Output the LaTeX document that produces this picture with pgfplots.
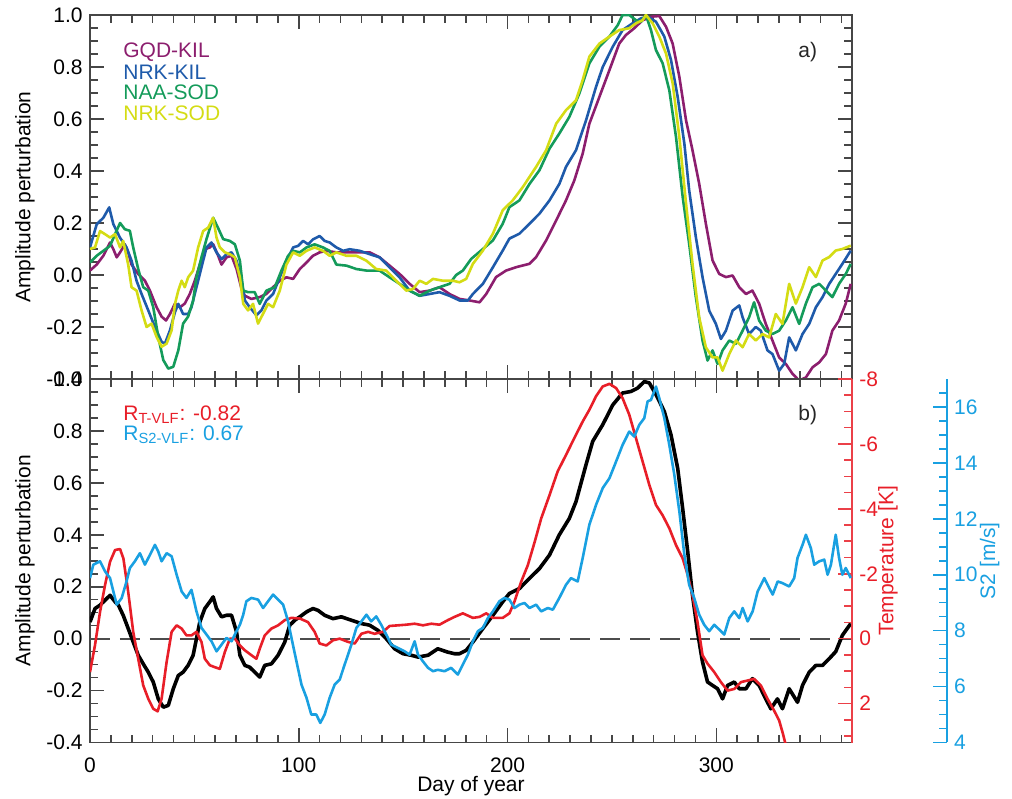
\documentclass[border=0pt]{standalone}
\usepackage{fontspec}
\setmainfont{Liberation Sans}
\usepackage{pgfplots}
\pgfplotsset{compat=1.18}
\definecolor{cPur}{RGB}{140,30,110}
\definecolor{cBlu}{RGB}{30,90,170}
\definecolor{cGrn}{RGB}{20,155,90}
\definecolor{cYel}{RGB}{212,220,20}
\definecolor{cRed}{RGB}{232,30,40}
\definecolor{cSky}{RGB}{25,160,225}
\definecolor{cAx}{RGB}{70,70,70}
\begin{document}
\fontsize{10.5}{12}\selectfont
\begin{tikzpicture}
\path[use as bounding box] (0pt,0pt) rectangle (506pt,399pt);
\pgfplotsset{
  base/.style={scale only axis, tick align=inside, anchor=center,
    major tick length=7pt, minor tick length=4pt,
    /pgf/number format/assume math mode=true,
    ticklabel style={font=\fontsize{10.5}{12}\selectfont},
    label style={font=\fontsize{10.5}{12}\selectfont},
    axis line style={cAx, line width=0.8pt},
    tick style={cAx, line width=0.8pt}},
  ampl/.style={base, width=381pt, xmin=0, xmax=365, ymin=-0.4, ymax=1.0,
    xtick={0,100,200,300}, minor xtick={10,20,...,360},
    ytick={-0.4,-0.2,0,0.2,0.4,0.6,0.8,1.0},
    minor ytick={-0.35,-0.3,-0.25,-0.15,-0.1,-0.05,0.05,0.1,0.15,0.25,0.3,0.35,0.45,0.5,0.55,0.65,0.7,0.75,0.85,0.9,0.95},
    yticklabel style={/pgf/number format/fixed, /pgf/number format/fixed zerofill, /pgf/number format/precision=1},
    ylabel={Amplitude perturbation},
    every axis y label/.style={at={([xshift=-32.5pt]axis description cs:0,0.5)}, rotate=90, anchor=center}},
  ln/.style={line width=1.3pt, line join=round},
}
% ---------------- top panel ----------------
\begin{axis}[ampl, at={(235.5pt,300.5pt)}, height=182pt, xticklabels={}]
\addplot[ln, cPur] coordinates {
(0,0.017)(3.2,0.04)(6.4,0.074)(9.6,0.125)(11.2,0.099)(12.8,0.068)(14.4,0.087)(16.7,0.118)(18.3,0.087)(19.9,0.04)
(23.1,0.004)(26.3,-0.022)(28.7,-0.06)(31.9,-0.124)(34.3,-0.16)(36.4,-0.175)(38.3,-0.15)(40.7,-0.11)(43.1,-0.124)(45.4,-0.11)
(47.8,-0.073)(50.2,-0.022)(52.6,0.04)(55.0,0.099)(57.4,0.106)(59.0,0.118)(61.4,0.074)(63.0,0.04)(65.4,0.068)(67.8,0.074)
(70.2,0.023)(72.6,-0.054)(74.2,-0.08)(77.3,-0.092)(81.3,-0.085)(84.5,-0.073)(87.7,-0.047)(90.9,-0.022)(94.1,-0.009)(97.3,-0.015)
(100.5,0.023)(103.7,0.048)(106.8,0.074)(110.0,0.087)(113.2,0.093)(118.0,0.087)(122.8,0.087)(129.2,0.087)(134.0,0.087)(138.7,0.068)
(143.5,0.036)(148.3,0.004)(153.1,-0.034)(157.9,-0.066)(162.7,-0.06)(167.4,-0.047)(172.2,-0.073)(177.0,-0.092)(181.8,-0.098)(186.6,-0.105)
(189.8,-0.073)(194.5,-0.008)(199.3,0.017)(204.1,0.03)(210.5,0.043)(213.7,0.069)(218.5,0.133)(223.3,0.21)(228.0,0.287)(232.0,0.364)
(236.0,0.467)(239.2,0.582)(244.0,0.685)(248.8,0.788)(253.5,0.89)(256.7,0.923)(260.7,0.949)(264.7,0.98)(269.5,0.994)(272.7,0.996)
(275.9,0.955)(279.1,0.89)(282.3,0.762)(285.5,0.595)(288.6,0.48)(291.8,0.351)(295.0,0.197)(298.2,0.056)(301.4,0.004)(304.6,-0.008)
(307.8,-0.002)(311.0,-0.047)(314.2,-0.073)(317.3,-0.06)(320.5,-0.11)(323.7,-0.188)(326.9,-0.252)(330.1,-0.317)(333.3,-0.342)(336.5,-0.38)
(339.7,-0.406)(342.9,-0.394)(346.1,-0.355)(349.3,-0.336)(352.5,-0.304)(355.6,-0.214)(358.8,-0.175)(362.0,-0.11)(364.4,-0.034)};
\addplot[ln, cBlu] coordinates {
(0,0.106)(3.2,0.195)(6.4,0.22)(9.2,0.26)(11.2,0.195)(14.4,0.143)(17.5,0.106)(19.9,0.055)(22.3,-0.022)(24.7,-0.073)
(27.9,-0.136)(31.1,-0.2)(34.3,-0.257)(35.9,-0.264)(38.3,-0.213)(40.7,-0.143)(42.3,-0.111)(44.6,-0.15)(47.0,-0.15)(48.6,-0.124)
(51.0,-0.047)(53.4,0.029)(55.8,0.106)(58.2,0.125)(60.6,0.087)(63.0,0.061)(65.4,0.08)(67.8,0.087)(70.2,0.055)(72.6,-0.022)
(74.2,-0.098)(76.5,-0.124)(79.7,-0.155)(82.1,-0.136)(84.5,-0.098)(87.7,-0.073)(90.9,-0.009)(94.1,0.055)(97.3,0.106)(99.7,0.112)
(102.1,0.131)(104.5,0.118)(106.8,0.137)(110.0,0.15)(112.4,0.131)(114.8,0.125)(118.0,0.106)(121.2,0.093)(124.4,0.099)(129.2,0.093)
(134.0,0.08)(138.7,0.068)(143.5,0.029)(148.3,-0.009)(153.1,-0.06)(157.9,-0.08)(162.7,-0.073)(167.4,-0.066)(172.2,-0.08)(177.0,-0.098)
(181.0,-0.098)(183.4,-0.073)(188.2,-0.034)(193.0,0.03)(197.7,0.094)(200.9,0.14)(205.7,0.159)(210.5,0.197)(215.3,0.236)(220.1,0.287)
(224.8,0.35)(228.0,0.416)(232.8,0.48)(237.6,0.595)(242.4,0.724)(245.6,0.8)(250.4,0.878)(255.1,0.942)(259.9,0.968)(263.9,0.987)
(267.1,0.994)(271.1,0.974)(275.1,0.917)(278.3,0.827)(281.5,0.685)(284.7,0.505)(287.0,0.326)(290.2,0.146)(293.4,-0.008)(296.6,-0.137)
(299.8,-0.188)(302.2,-0.246)(304.6,-0.214)(307.8,-0.137)(311.0,-0.117)(312.6,-0.163)(315.7,-0.227)(318.9,-0.2)(321.3,-0.214)(324.5,-0.29)
(326.9,-0.304)(330.1,-0.368)(332.5,-0.342)(334.9,-0.24)(338.1,-0.29)(341.3,-0.227)(344.5,-0.188)(347.7,-0.124)(350.9,-0.085)(354.1,-0.034)
(357.2,0.004)(360.4,0.043)(364.4,0.094)};
\addplot[ln, cGrn] coordinates {
(0,0.048)(3.2,0.074)(6.4,0.093)(9.6,0.112)(12.0,0.157)(14.4,0.2)(16.7,0.176)(19.1,0.17)(20.7,0.106)(23.1,0.023)
(25.5,-0.047)(27.9,-0.06)(30.3,-0.124)(32.7,-0.238)(35.1,-0.327)(37.5,-0.36)(39.9,-0.353)(42.3,-0.29)(44.6,-0.187)(47.0,-0.16)
(49.4,-0.099)(51.0,-0.009)(53.4,0.068)(55.8,0.138)(59.0,0.22)(61.4,0.18)(63.8,0.138)(67.0,0.131)(69.4,0.118)(71.8,0.055)
(73.4,-0.06)(75.7,-0.066)(78.9,-0.066)(81.3,-0.111)(84.5,-0.06)(88.5,-0.047)(91.7,0.017)(94.9,0.074)(97.3,0.093)(100.5,0.087)
(103.7,0.106)(107.6,0.118)(111.6,0.106)(114.8,0.093)(118.0,0.04)(122.8,0.036)(127.6,0.023)(132.4,0.017)(138.7,0.017)(143.5,-0.009)
(148.3,-0.034)(153.1,-0.06)(157.9,-0.08)(162.7,-0.06)(167.4,-0.047)(172.2,-0.034)(175.4,0.0)(178.6,0.017)(182.6,0.062)(188.2,0.1)
(193.0,0.133)(197.7,0.197)(200.9,0.261)(205.7,0.287)(210.5,0.35)(215.3,0.403)(220.1,0.486)(224.8,0.544)(229.6,0.608)(234.4,0.698)
(239.2,0.814)(244.0,0.878)(248.8,0.917)(252.8,0.961)(255.1,1.0)(258.3,1.0)(261.5,0.98)(263.9,0.974)(266.3,1.0)(268.7,0.942)
(271.1,0.865)(274.3,0.814)(277.5,0.71)(280.7,0.531)(283.9,0.3)(287.0,0.12)(290.2,-0.085)(293.4,-0.252)(295.8,-0.329)(298.2,-0.29)
(300.6,-0.342)(303.0,-0.29)(306.2,-0.252)(309.4,-0.265)(312.6,-0.214)(315.7,-0.163)(318.1,-0.105)(320.5,-0.175)(323.7,-0.214)(326.9,-0.227)
(330.1,-0.214)(333.3,-0.175)(336.5,-0.124)(339.7,-0.188)(342.9,-0.11)(346.1,-0.047)(349.3,-0.034)(352.5,-0.06)(355.6,-0.085)(358.8,-0.034)
(362.0,0.004)(364.4,0.043)};
\addplot[ln, cYel] coordinates {
(0,0.1)(2.4,0.106)(4.8,0.169)(7.2,0.157)(9.6,0.144)(12.0,0.157)(14.4,0.106)(15.9,0.131)(18.3,0.04)(19.9,-0.047)
(22.3,-0.06)(24.7,-0.136)(27.1,-0.2)(29.5,-0.187)(31.9,-0.238)(34.3,-0.276)(36.7,-0.264)(39.1,-0.213)(40.7,-0.111)(42.3,-0.06)
(43.9,-0.022)(45.4,-0.047)(47.0,-0.009)(49.4,0.017)(51.8,0.106)(54.2,0.169)(56.6,0.182)(59.0,0.22)(60.6,0.144)(62.2,0.106)
(64.6,0.087)(67.0,0.08)(69.4,0.068)(71.8,-0.009)(73.4,-0.111)(75.7,-0.136)(78.1,-0.111)(80.5,-0.187)(82.9,-0.149)(85.3,-0.111)
(87.7,-0.124)(90.9,-0.06)(94.1,0.04)(97.3,0.087)(100.5,0.074)(103.7,0.093)(107.6,0.106)(111.6,0.093)(114.8,0.074)(118.0,0.087)
(122.8,0.074)(127.6,0.074)(132.4,0.055)(137.1,0.023)(141.9,0.017)(146.7,-0.022)(151.5,-0.06)(154.7,-0.054)(157.9,-0.022)(161.1,-0.034)
(164.3,-0.015)(169.0,-0.022)(173.8,-0.022)(177.0,-0.028)(180.2,-0.015)(183.4,0.043)(188.2,0.094)(193.0,0.159)(197.7,0.249)(202.5,0.287)
(207.3,0.338)(213.7,0.416)(218.5,0.48)(223.3,0.582)(228.0,0.634)(232.8,0.672)(236.0,0.75)(239.2,0.84)(244.0,0.89)(248.8,0.917)
(253.5,0.942)(258.3,0.949)(261.5,0.968)(264.7,0.98)(266.3,1.0)(269.5,0.968)(272.7,0.917)(275.9,0.852)(279.1,0.737)(282.3,0.531)
(285.5,0.275)(288.6,0.043)(291.8,-0.163)(295.0,-0.278)(298.2,-0.317)(300.6,-0.317)(303.0,-0.368)(306.2,-0.304)(309.4,-0.252)(312.6,-0.278)
(315.7,-0.227)(318.9,-0.252)(322.1,-0.227)(325.3,-0.24)(328.5,-0.15)(331.7,-0.188)(334.9,-0.034)(338.1,-0.11)(341.3,-0.047)(344.5,0.03)
(347.7,-0.008)(350.9,0.056)(354.1,0.069)(357.2,0.094)(360.4,0.1)(364.4,0.113)};
\node[anchor=west, text=cPur, inner sep=0pt] at (rel axis cs:0.0433,0.898) {GQD-KIL};
\node[anchor=west, text=cBlu, inner sep=0pt] at (rel axis cs:0.0433,0.843) {NRK-KIL};
\node[anchor=west, text=cGrn, inner sep=0pt] at (rel axis cs:0.0433,0.787) {NAA-SOD};
\node[anchor=west, text=cYel, inner sep=0pt] at (rel axis cs:0.0433,0.731) {NRK-SOD};
\node[text=black!85] at (rel axis cs:0.942,0.898) {a)};
\end{axis}
% ---------------- bottom panel: amplitude ----------------
\begin{axis}[ampl, at={(235.5pt,118.625pt)}, height=181.75pt,
  axis x line*=box, axis y line*=left,
  xlabel={Day of year},
  every axis x label/.style={at={([yshift=-22pt]axis description cs:0.5,0)}, anchor=center},
  xticklabel style={yshift=-4pt}]
\addplot[black!70, line width=0.9pt, dash pattern=on 10pt off 5pt] coordinates {(0,0)(365,0)};
\addplot[black, line width=1.8pt, line join=round] coordinates {
(0,0.064)(2.4,0.116)(4.8,0.129)(7.2,0.148)(9.6,0.167)(12.0,0.142)(13.6,0.129)(15.9,0.09)(18.3,0.039)(20.7,-0.013)
(23.1,-0.064)(25.5,-0.097)(27.9,-0.129)(30.3,-0.167)(32.7,-0.232)(35.1,-0.264)(37.5,-0.257)(39.9,-0.193)(42.3,-0.142)(44.6,-0.129)
(47.0,-0.103)(49.4,-0.064)(51.0,0.0)(52.6,0.064)(55.0,0.116)(57.4,0.142)(59.0,0.161)(60.6,0.116)(63.0,0.084)(65.4,0.09)
(67.8,0.09)(70.2,0.026)(71.8,-0.064)(74.2,-0.103)(76.5,-0.11)(78.9,-0.129)(81.3,-0.148)(83.7,-0.103)(86.9,-0.097)(90.1,-0.064)
(93.3,-0.013)(95.7,0.052)(98.1,0.071)(100.5,0.084)(103.7,0.103)(106.8,0.116)(109.2,0.109)(112.4,0.09)(116.4,0.077)(120.4,0.084)
(125.2,0.071)(130.0,0.058)(133.9,0.052)(137.9,0.032)(141.9,0.0)(145.9,-0.039)(149.9,-0.058)(153.9,-0.064)(157.1,-0.071)(161.9,-0.064)
(166.6,-0.039)(171.4,-0.052)(174.6,-0.058)(177.0,-0.058)(180.2,-0.045)(183.4,-0.013)(188.2,0.039)(193.0,0.09)(197.7,0.142)(200.9,0.174)
(205.7,0.193)(210.5,0.232)(215.3,0.27)(220.1,0.322)(224.8,0.4)(229.6,0.463)(232.8,0.528)(237.6,0.67)(240.8,0.76)(245.6,0.824)
(250.4,0.9)(255.1,0.946)(259.1,0.952)(262.3,0.965)(265.5,0.99)(267.9,0.985)(271.1,0.94)(275.1,0.875)(278.3,0.785)(281.5,0.656)
(283.9,0.5)(286.3,0.335)(288.6,0.167)(291.0,0.026)(293.4,-0.09)(295.8,-0.167)(298.2,-0.18)(300.6,-0.193)(303.0,-0.232)(305.4,-0.18)
(308.6,-0.167)(311.0,-0.193)(314.2,-0.193)(317.3,-0.154)(320.5,-0.18)(323.7,-0.232)(326.1,-0.27)(329.3,-0.232)(331.7,-0.27)(334.9,-0.193)
(338.9,-0.245)(341.3,-0.18)(344.5,-0.129)(347.7,-0.103)(350.9,-0.103)(354.1,-0.077)(357.2,-0.05)(360.4,0.013)(364.4,0.058)};
\node[anchor=west, text=cRed, inner sep=0pt] at (rel axis cs:0.0433,0.902) {R\textsubscript{T-VLF}: -0.82};
\node[anchor=west, text=cSky, inner sep=0pt] at (rel axis cs:0.0433,0.847) {R\textsubscript{S2-VLF}: 0.67};
\node[text=black!85] at (rel axis cs:0.942,0.901) {b)};
\end{axis}
% ---------------- bottom panel: temperature ----------------
\begin{axis}[base, at={(235.5pt,118.625pt)}, width=381pt, height=181.75pt,
  xmin=0, xmax=365, ymin=-8, ymax=3.2, y dir=reverse,
  axis x line=none, axis y line*=right,
  ytick={-8,-6,-4,-2,0,2}, minor ytick={-7.5,-7,-6.5,-5.5,-5,-4.5,-3.5,-3,-2.5,-1.5,-1,-0.5,0.5,1,1.5,2.5,3},
  axis line style={cRed!85, line width=0.8pt}, tick style={cRed!85, line width=0.8pt},
  yticklabel style={text=cRed},
  ylabel={Temperature [K]},
  every axis y label/.style={at={([xshift=18pt]axis description cs:1,0.5)}, rotate=90, anchor=center, text=cRed}]
\addplot[cRed, ln] coordinates {
(0,1.03)(2.4,0.2)(4.8,-0.82)(7.2,-1.65)(9.6,-2.37)(12.0,-2.73)(14.4,-2.76)(16.0,-2.47)(18.3,-1.44)(20.7,-0.21)
(23.1,0.62)(25.5,1.44)(27.9,1.85)(30.3,2.16)(32.4,2.24)(34.3,1.85)(36.7,0.72)(39.1,-0.21)(41.5,-0.41)(43.9,-0.31)
(46.2,-0.1)(48.6,-0.1)(51.0,-0.21)(53.4,0.1)(55.0,0.62)(57.4,0.82)(59.8,0.88)(62.2,0.93)(64.6,0.41)(67.0,0.0)
(69.4,0.0)(71.8,0.21)(74.2,0.36)(77.3,0.51)(79.7,0.62)(81.3,0.31)(83.7,-0.1)(86.9,-0.31)(90.1,-0.41)(93.3,-0.57)
(96.5,-0.64)(100.5,-0.62)(104.4,-0.51)(107.6,-0.21)(110.0,0.15)(113.2,0.21)(116.4,0.05)(119.6,0.0)(123.6,0.1)(126.8,0.15)
(130.0,-0.15)(133.2,-0.21)(136.3,-0.15)(140.3,-0.21)(143.5,-0.39)(147.5,-0.41)(151.5,-0.43)(155.5,-0.46)(159.5,-0.41)(163.5,-0.46)
(167.4,-0.43)(171.4,-0.57)(174.6,-0.67)(178.6,-0.78)(183.4,-0.64)(186.6,-0.67)(189.8,-0.78)(193.0,-0.64)(197.7,-0.64)(200.9,-0.78)
(203.3,-1.14)(206.5,-1.75)(209.7,-2.26)(213.0,-2.98)(216.1,-3.7)(220.1,-4.42)(224.0,-5.15)(228.0,-5.66)(232.0,-6.18)(236.0,-6.69)
(239.2,-7.05)(242.4,-7.47)(245.6,-7.77)(248.8,-7.85)(252.0,-7.72)(255.1,-7.41)(258.3,-6.9)(261.5,-6.18)(264.7,-5.46)(267.9,-4.74)
(271.1,-4.12)(274.3,-3.8)(277.5,-3.4)(280.7,-2.88)(283.9,-2.47)(286.3,-1.96)(288.6,-1.34)(291.0,-0.51)(293.4,0.51)(295.8,0.77)
(299.0,1.03)(302.2,1.34)(305.4,1.6)(308.6,1.55)(311.8,1.34)(315.0,1.29)(318.1,1.24)(321.3,1.44)(324.5,1.85)(327.7,2.22)
(330.1,2.52)(331.7,2.88)(333.3,3.28)(334.5,3.6)};
\end{axis}
% ---------------- bottom panel: S2 ----------------
\begin{axis}[base, at={(259.175pt,118.625pt)}, width=428.35pt, height=181.75pt,
  xmin=0, xmax=410.36, ymin=4, ymax=17,
  axis x line=none, axis y line*=right,
  ytick={4,6,8,10,12,14,16}, minor ytick={4.5,5,5.5,6.5,7,7.5,8.5,9,9.5,10.5,11,11.5,12.5,13,13.5,14.5,15,15.5,16.5},
  axis line style={cSky, line width=0.8pt}, tick style={cSky, line width=0.8pt},
  yticklabel style={text=cSky},
  ylabel={S2 [m/s]},
  every axis y label/.style={at={([xshift=21.5pt]axis description cs:1,0.5)}, rotate=90, anchor=center, text=cSky}]
\addplot[cSky, ln] coordinates {
(0,9.88)(1.6,10.36)(4.8,10.48)(7.2,10.12)(9.6,9.88)(11.2,9.4)(12.8,8.93)(15.2,9.17)(17.5,9.76)(19.1,10.24)
(21.5,10.48)(23.9,10.77)(26.3,10.36)(28.7,10.71)(31.1,11.07)(32.7,10.83)(34.3,10.48)(36.7,10.77)(39.1,10.66)(41.5,10.0)
(43.9,9.4)(46.2,9.17)(48.6,9.46)(51.0,8.69)(53.4,8.1)(55.8,7.86)(58.2,7.62)(60.6,7.26)(63.0,7.5)(65.4,7.74)
(67.8,7.62)(70.2,7.98)(71.8,8.21)(73.4,8.57)(74.9,9.05)(77.3,9.17)(80.5,9.11)(82.9,8.81)(85.3,9.05)(87.7,9.29)
(90.1,9.11)(92.5,8.93)(94.9,8.33)(96.5,7.74)(98.9,6.9)(101.3,6.07)(103.7,5.6)(106.0,5.0)(108.4,5.0)(110.3,4.7)
(112.4,5.0)(114.8,5.6)(117.2,6.07)(119.6,6.25)(122.0,6.79)(125.2,7.5)(127.6,8.1)(130.0,8.33)(132.4,8.57)(134.7,8.33)
(137.1,8.51)(139.5,8.21)(141.9,7.86)(144.3,7.5)(147.5,7.38)(150.7,7.26)(153.1,7.14)(155.5,7.62)(157.1,7.14)(159.5,6.9)
(161.9,6.67)(164.3,6.55)(166.6,6.6)(169.8,6.55)(173.0,6.67)(176.2,6.43)(178.6,6.79)(181.0,7.14)(183.4,7.62)(185.8,7.98)
(188.2,8.1)(190.6,8.45)(193.0,8.69)(196.1,9.05)(198.5,9.17)(200.9,9.11)(203.3,8.81)(205.7,8.93)(208.1,8.99)(210.5,8.81)
(213.7,8.93)(216.1,8.69)(219.3,8.81)(221.7,8.75)(224.8,9.17)(228.0,9.64)(230.4,9.88)(233.6,9.76)(236.0,10.6)(239.2,11.79)
(242.4,12.5)(245.6,13.1)(248.8,13.45)(252.0,14.05)(255.1,14.64)(258.3,15.12)(260.7,14.94)(263.1,15.36)(265.5,15.6)(267.1,16.2)
(268.7,16.25)(271.1,16.73)(272.7,16.31)(275.1,15.6)(277.5,14.64)(279.9,13.57)(282.3,12.26)(284.7,10.71)(287.0,9.64)(289.4,9.17)
(291.8,8.57)(294.2,8.21)(296.6,7.98)(299.0,8.21)(301.4,8.04)(303.8,7.86)(306.2,8.45)(308.6,8.69)(311.0,8.45)(312.6,8.81)
(315.0,8.33)(317.4,8.69)(319.8,9.4)(323.0,9.88)(325.4,9.52)(327.0,9.29)(329.4,9.76)(331.7,9.7)(334.9,9.58)(337.3,9.88)
(338.9,10.6)(341.3,11.07)(342.9,11.43)(345.3,10.95)(346.9,10.36)(349.3,10.48)(351.7,10.54)(353.3,10.0)(354.9,10.36)(357.2,11.43)
(358.8,10.6)(360.4,10.0)(362.0,10.24)(364.4,9.88)};
\end{axis}
\end{tikzpicture}
\end{document}
